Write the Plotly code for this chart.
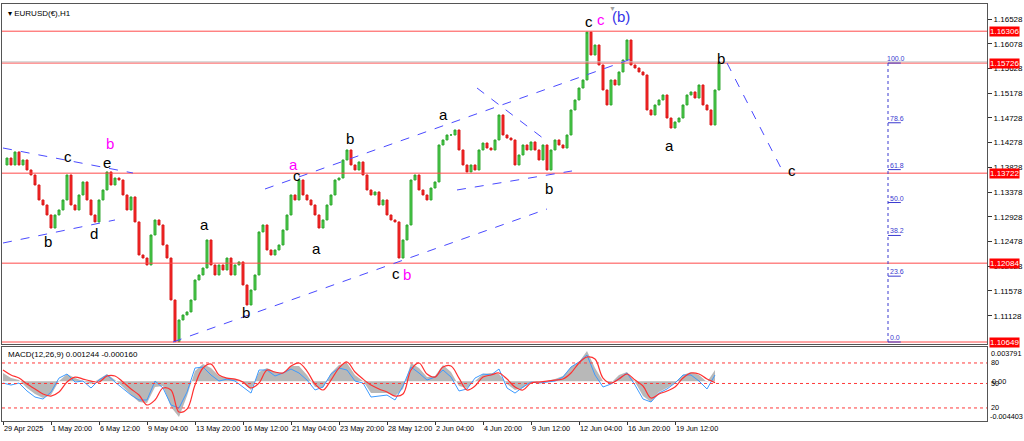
import plotly.graph_objects as go

# ---------------- data ----------------
closes = [
    1.13871, 1.13998, 1.13871, 1.14108, 1.13871, 1.13962, 1.13780, 1.13689, 1.13507, 1.13234,
    1.13143, 1.12961, 1.12724, 1.12961, 1.13052, 1.13234, 1.13689, 1.13143, 1.13052, 1.13325,
    1.13562, 1.13234, 1.12961, 1.12834, 1.13234, 1.13416, 1.13744, 1.13507, 1.13634, 1.13598,
    1.13325, 1.13052, 1.13289, 1.12834, 1.12233, 1.12178, 1.12051, 1.12597, 1.12870, 1.12779,
    1.12415, 1.12178, 1.11414, 1.10655, 1.11050, 1.11141, 1.11196, 1.11414, 1.11778, 1.11869,
    1.11996, 1.12506, 1.12051, 1.11869, 1.12051, 1.11960, 1.12178, 1.11869, 1.12051, 1.12106,
    1.11687, 1.11323, 1.11596, 1.11869, 1.12652, 1.12779, 1.12324, 1.12233, 1.12324, 1.12415,
    1.12688, 1.12961, 1.13325, 1.13234, 1.13598, 1.13325, 1.13234, 1.13143, 1.12961, 1.12724,
    1.12870, 1.13143, 1.13325, 1.13598, 1.13634, 1.13962, 1.14144, 1.13871, 1.13780, 1.13926,
    1.13689, 1.13416, 1.13325, 1.13380, 1.13143, 1.13234, 1.12961, 1.12870, 1.12834, 1.12178,
    1.12506, 1.12779, 1.13598, 1.13689, 1.13416, 1.13325, 1.13234, 1.13452, 1.13562, 1.14235,
    1.14326, 1.14417, 1.14417, 1.14508, 1.14144, 1.13871, 1.13744, 1.13871, 1.13780, 1.14144,
    1.14271, 1.14180, 1.14144, 1.14326, 1.14781, 1.14417, 1.14362, 1.14326, 1.13871, 1.14053,
    1.14235, 1.14144, 1.14290, 1.14144, 1.13962, 1.14235, 1.13780, 1.14144, 1.14326, 1.14235,
    1.14180, 1.14417, 1.14872, 1.15054, 1.15272, 1.15418, 1.16290, 1.15873, 1.16055, 1.15691,
    1.15236, 1.14963, 1.15418, 1.15327, 1.15564, 1.15782, 1.16146, 1.15691, 1.15636, 1.15564,
    1.15509, 1.14872, 1.14781, 1.14963, 1.15054, 1.15145, 1.14726, 1.14544, 1.14654, 1.14726,
    1.14963, 1.15145, 1.15200, 1.15090, 1.15327, 1.14963, 1.14872, 1.14599, 1.15236, 1.15746,
]

tick_labels = ["29 Apr 2025", "1 May 20:00", "6 May 12:00", "9 May 04:00", "13 May 20:00",
               "16 May 12:00", "21 May 04:00", "23 May 20:00", "28 May 12:00", "2 Jun 04:00",
               "4 Jun 20:00", "9 Jun 12:00", "12 Jun 04:00", "16 Jun 20:00", "19 Jun 12:00"]
bars_per_tick = 12

price_ticks = [1.16528, 1.16078, 1.15628, 1.15178, 1.14728, 1.14278, 1.13828,
               1.13378, 1.12928, 1.12478, 1.12028, 1.11578, 1.11128]
level_lines = [1.16306, 1.15726, 1.13722, 1.12084, 1.10649]

fib_low, fib_high = 1.10649, 1.15726
fib_levels = [0.0, 23.6, 38.2, 50.0, 61.8, 78.6, 100.0]
fib_bar = 221.25

macd_step = 2
macd_hist = [
    0.00091, 0.00035, 0.00013, -0.00075, -0.00142, -0.00186, -0.00153, 0.00002, 0.00080, 0.00035,
    0.00002, -0.00031, 0.00024, 0.00080, 0.00013, -0.00064, -0.00153, -0.00230, -0.00241, -0.00064,
    -0.00053, -0.00286, -0.00396, -0.00164, 0.00113, 0.00190, 0.00146, 0.00058, 0.00035, 0.00024,
    -0.00020, -0.00097, 0.00102, 0.00146, 0.00102, 0.00091, 0.00168, 0.00168, 0.00069, -0.00064,
    -0.00075, 0.00091, 0.00179, 0.00202, 0.00069, 0.00002, -0.00131, -0.00131, -0.00131, -0.00164,
    -0.00086, 0.00202, 0.00146, 0.00046, 0.00058, 0.00179, 0.00102, -0.00053, -0.00075, 0.00002,
    0.00080, 0.00091, 0.00080, -0.00031, -0.00097, -0.00075, -0.00009, -0.00009, 0.00002, 0.00024,
    0.00058, 0.00157, 0.00213, 0.00334, 0.00146, 0.00002, -0.00020, 0.00069, 0.00102, -0.00009,
    -0.00164, -0.00230, -0.00120, -0.00075, -0.00020, 0.00069, 0.00102, 0.00069, -0.00009, 0.00124,
]
macd_signal = [
    0.00124, 0.00069, 0.00035, -0.00031, -0.00086, -0.00142, -0.00164, -0.00120, -0.00009, 0.00046,
    0.00024, 0.00002, -0.00009, 0.00058, 0.00058, -0.00009, -0.00086, -0.00153, -0.00263, -0.00208,
    -0.00075, -0.00097, -0.00341, -0.00308, -0.00042, 0.00146, 0.00190, 0.00069, 0.00035, 0.00024,
    -0.00009, -0.00075, -0.00020, 0.00124, 0.00102, 0.00091, 0.00168, 0.00202, 0.00113, -0.00031,
    -0.00097, 0.00013, 0.00146, 0.00213, 0.00102, 0.00024, -0.00042, -0.00086, -0.00120, -0.00164,
    -0.00142, 0.00124, 0.00202, 0.00080, 0.00046, 0.00157, 0.00168, 0.00035, -0.00097, -0.00053,
    0.00046, 0.00069, 0.00091, 0.00024, -0.00064, -0.00097, -0.00020, -0.00009, 0.00002, 0.00013,
    0.00024, 0.00091, 0.00202, 0.00268, 0.00246, 0.00035, -0.00020, 0.00024, 0.00080, 0.00013,
    -0.00053, -0.00186, -0.00142, -0.00108, -0.00064, 0.00035, 0.00091, 0.00080, 0.00024, -0.00016,
]
macd_fast = [
    -0.00020, -0.00042, -0.00020, -0.00108, -0.00175, -0.00197, -0.00120, 0.00035, 0.00080, -0.00009,
    0.00002, -0.00075, 0.00013, 0.00069, -0.00009, -0.00086, -0.00153, -0.00208, -0.00208, 0.00002,
    -0.00075, -0.00263, -0.00297, -0.00120, 0.00146, 0.00157, 0.00069, 0.00002, 0.00024, 0.00002,
    -0.00064, -0.00131, 0.00124, 0.00124, 0.00058, 0.00091, 0.00135, 0.00091, 0.00013, -0.00097,
    -0.00064, 0.00080, 0.00146, 0.00124, 0.00002, -0.00020, -0.00175, -0.00164, -0.00153, -0.00208,
    -0.00053, 0.00157, 0.00091, 0.00013, 0.00046, 0.00124, 0.00046, -0.00108, -0.00086, 0.00035,
    0.00080, 0.00069, 0.00135, -0.00075, -0.00131, -0.00064, -0.00009, -0.00020, -0.00009, 0.00002,
    0.00046, 0.00157, 0.00213, 0.00290, 0.00069, -0.00064, -0.00031, 0.00035, 0.00091, -0.00042,
    -0.00197, -0.00230, -0.00131, -0.00086, -0.00020, 0.00069, 0.00069, 0.00002, -0.00086, 0.00069,
]
macd_range = [-0.004403, 0.003791]
macd_levels = [0.00202, -0.00025, -0.00296]
macd_level_labels = ["80", "50", "20"]

# trendlines: ((bar, price), (bar, price))
trendlines = [
    ((0.0, 1.14180), (32.5, 1.13725)),
    ((0.0, 1.12451), (28.0, 1.12870)),
    ((42.5, 1.10649), (136.0, 1.13070)),
    ((65.5, 1.13434), (158.5, 1.15837)),
    ((113.5, 1.13416), (142.25, 1.13762)),
    ((118.5, 1.15272), (136.25, 1.14290)),
    ((181.0, 1.15727), (194.75, 1.13780)),
]

# wave labels: (text, bar, price, colour)
BLK, PNK, BLU = "#000000", "#ff00ff", "#3535e8"
wave_labels = [
    ("c", 16.25, 1.14017, BLK), ("b", 26.75, 1.14253, PNK), ("e", 26.0, 1.13908, BLK),
    ("b", 11.25, 1.12470, BLK), ("d", 22.75, 1.12615, BLK), ("a", 50.25, 1.12779, BLK),
    ("b", 60.75, 1.11178, BLK), ("a", 72.5, 1.13871, PNK), ("c", 73.5, 1.13671, BLK),
    ("b", 86.75, 1.14344, BLK), ("a", 78.25, 1.12360, BLK), ("c", 98.25, 1.11905, BLK),
    ("b", 101.0, 1.11869, PNK), ("a", 110.0, 1.14781, BLK), ("b", 136.5, 1.13434, BLK),
    ("c", 146.5, 1.16474, BLK), ("c", 149.5, 1.16528, PNK), ("(b)", 154.5, 1.16565, BLU),
    ("a", 166.5, 1.14217, BLK), ("b", 179.5, 1.15818, BLK), ("c", 197.25, 1.13762, BLK),
]

# ---------------- figure ----------------
x_range = [-0.25, 246.0]
price_range = [1.10613, 1.16801]
FONT = "Liberation Sans"

bars = list(range(1, len(closes)))
opens = closes[:-1]
cl = closes[1:]
highs = [max(o, c) for o, c in zip(opens, cl)]
lows = [min(o, c) for o, c in zip(opens, cl)]

fig = go.Figure()
fig.add_trace(go.Candlestick(
    x=bars, open=opens, high=highs, low=lows, close=cl,
    increasing=dict(line=dict(color="#2ea52e", width=1), fillcolor="#52d552"),
    decreasing=dict(line=dict(color="#d81818", width=1), fillcolor="#ff2a2a"),
    whiskerwidth=0, showlegend=False, hoverinfo="skip", xaxis="x", yaxis="y"))

mx = [j * macd_step for j in range(len(macd_hist))]
fig.add_trace(go.Scatter(x=mx, y=macd_hist, mode="lines", fill="tozeroy",
                         line=dict(width=0, color="#b4b4b4"), fillcolor="#b8b8b8",
                         showlegend=False, hoverinfo="skip", xaxis="x2", yaxis="y2"))
fig.add_trace(go.Scatter(x=mx, y=macd_fast, mode="lines",
                         line=dict(width=1, color="#3d9bff"),
                         showlegend=False, hoverinfo="skip", xaxis="x2", yaxis="y2"))
fig.add_trace(go.Scatter(x=mx, y=macd_signal, mode="lines",
                         line=dict(width=1.2, color="#ff3030", shape="spline"),
                         showlegend=False, hoverinfo="skip", xaxis="x2", yaxis="y2"))

shapes = []
for lv in level_lines:
    shapes.append(dict(type="line", xref="x domain", yref="y", x0=0, x1=1, y0=lv, y1=lv,
                       line=dict(color="#ff4a4a", width=1)))
shapes.append(dict(type="line", xref="x domain", yref="y", x0=0, x1=1,
                   y0=fib_high + 0.00022, y1=fib_high + 0.00022,
                   line=dict(color="#c8c8c8", width=1)))
for (b0, p0), (b1, p1) in trendlines:
    shapes.append(dict(type="line", xref="x", yref="y", x0=b0, y0=p0, x1=b1, y1=p1,
                       line=dict(color="#4a4aff", width=1, dash="dash")))
shapes.append(dict(type="line", xref="x", yref="y", x0=fib_bar, x1=fib_bar,
                   y0=fib_low, y1=fib_high, line=dict(color="#3a3ad0", width=1, dash="dot")))
annotations = []
for lv in fib_levels:
    p = fib_low + lv / 100.0 * (fib_high - fib_low)
    shapes.append(dict(type="line", xref="x", yref="y", x0=fib_bar, x1=fib_bar + 3.2,
                       y0=p, y1=p, line=dict(color="#3a3ad0", width=1)))
    annotations.append(dict(x=fib_bar - (0.8 if lv == 100.0 else 0.0), y=p, xref="x", yref="y",
                            text=f"{lv:.1f}", showarrow=False, xanchor="left", yanchor="bottom",
                            yshift=-1, font=dict(family=FONT, size=7, color="#3a3ad0")))
for lv in macd_levels:
    shapes.append(dict(type="line", xref="x2 domain", yref="y2", x0=0, x1=1, y0=lv, y1=lv,
                       line=dict(color="#ff3a3a", width=1, dash="dot")))

for txt, b, p, col in wave_labels:
    annotations.append(dict(x=b, y=p, xref="x", yref="y", text=txt, showarrow=False,
                            font=dict(family=FONT, size=15, color=col)))

for lv in level_lines:
    annotations.append(dict(x=1, y=lv, xref="paper", yref="y", text=f"{lv:.5f}",
                            showarrow=False, xanchor="left", xshift=2, bgcolor="#ff0000",
                            borderpad=0, font=dict(family=FONT, size=8, color="#ffffff")))

SMALL = 7.3
annotations.append(dict(x=1, y=macd_range[1], xref="paper", yref="y2", text=f"{macd_range[1]:.6f}",
                        showarrow=False, xanchor="left", yanchor="top", xshift=2,
                        font=dict(family=FONT, size=SMALL, color="#000")))
annotations.append(dict(x=1, y=macd_range[0], xref="paper", yref="y2", text=f"{macd_range[0]:.6f}",
                        showarrow=False, xanchor="left", yanchor="bottom", xshift=1, yshift=-2,
                        font=dict(family=FONT, size=SMALL, color="#000")))
annotations.append(dict(x=1, y=0.0, xref="paper", yref="y2", text="0.00",
                        showarrow=False, xanchor="left", xshift=3,
                        font=dict(family=FONT, size=SMALL, color="#000")))
for lv, lab in zip(macd_levels, macd_level_labels):
    annotations.append(dict(x=1, y=lv, xref="paper", yref="y2", text=lab,
                            showarrow=False, xanchor="left", xshift=2,
                            font=dict(family=FONT, size=SMALL, color="#000")))

annotations.append(dict(x=0, y=1, xref="paper", yref="paper", text="▾ EURUSD(€),H1",
                        showarrow=False, xanchor="left", yanchor="top", xshift=4, yshift=-3,
                        font=dict(family=FONT, size=8, color="#000")))
annotations.append(dict(x=0, y=macd_range[1], xref="paper", yref="y2",
                        text="MACD(12,26,9) 0.001244 -0.000160",
                        showarrow=False, xanchor="left", yanchor="top", xshift=4, yshift=-1,
                        font=dict(family=FONT, size=8, color="#000")))
annotations.append(dict(x=152.25, y=1, xref="x", yref="paper", text="▼", showarrow=False,
                        yanchor="top", yshift=1, font=dict(family=FONT, size=7, color="#a0a0a0")))

tick_vals = [k * bars_per_tick for k in range(len(tick_labels))]

fig.update_layout(
    width=1024, height=441,
    margin=dict(l=2, r=37, t=4, b=20),
    paper_bgcolor="#ffffff", plot_bgcolor="#ffffff",
    shapes=shapes, annotations=annotations, showlegend=False,
    xaxis=dict(domain=[0, 1], range=x_range, anchor="y", showticklabels=False,
               showgrid=False, zeroline=False, rangeslider=dict(visible=False),
               showline=True, mirror=True, linecolor="#555555", linewidth=1, ticks=""),
    yaxis=dict(domain=[0.1847, 1.0], range=price_range, side="right", anchor="x",
               tickvals=price_ticks, ticktext=[f"{v:.5f}" for v in price_ticks],
               ticks="outside", ticklen=4, tickcolor="#333333",
               tickfont=dict(family=FONT, size=8, color="#000"),
               showgrid=False, zeroline=False, showline=True, mirror=True,
               linecolor="#555555", linewidth=1, automargin=False),
    xaxis2=dict(domain=[0, 1], range=x_range, anchor="y2", tickvals=tick_vals,
                ticktext=tick_labels, ticks="outside", ticklen=3, tickcolor="#333333",
                ticklabelposition="outside right", tickangle=0,
                tickfont=dict(family=FONT, size=SMALL, color="#000"),
                showgrid=False, zeroline=False, showline=True, mirror=True,
                linecolor="#555555", linewidth=1, automargin=False),
    yaxis2=dict(domain=[0, 0.1775], range=macd_range, side="right", anchor="x2",
                showticklabels=False, ticks="", showgrid=False, zeroline=False,
                showline=True, mirror=True, linecolor="#555555", linewidth=1),
)

fig.write_html("out.html", config={"displayModeBar": False},
               post_script="document.body.style.margin='0';document.body.style.overflow='hidden';")
